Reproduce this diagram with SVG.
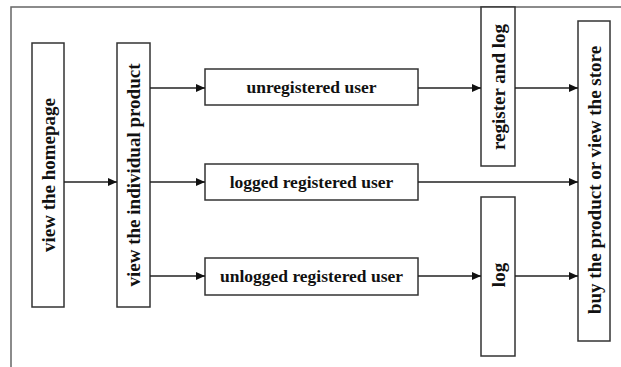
<svg xmlns="http://www.w3.org/2000/svg" width="621" height="367" viewBox="0 0 621 367">
<defs>
<marker id="ah" markerWidth="10" markerHeight="10" refX="9" refY="5" orient="auto" markerUnits="userSpaceOnUse">
<path d="M0,1 L9,5 L0,9 Z" fill="#111"/>
</marker>
<style>
.box{fill:#fff;stroke:#333;stroke-width:1.5}
.t{font-family:"Liberation Serif","Times New Roman",serif;font-weight:bold;fill:#111;text-anchor:middle}
.h{font-size:17.5px}
.v{font-size:19px}
.c{stroke:#222;stroke-width:1.4;fill:none;marker-end:url(#ah)}
.frame{stroke:#666;stroke-width:1.5;fill:none}
</style>
</defs>
<rect width="621" height="367" fill="#fff"/>
<path class="frame" d="M11,367 V7 H621"/>
<g id="homepage">
<rect class="box" x="32" y="43" width="32" height="264"/>
<text class="t v" transform="translate(48,175) rotate(-90)" y="6.5">view the homepage</text>
</g>
<g id="product">
<rect class="box" x="117" y="43" width="33" height="264"/>
<text class="t v" transform="translate(133.5,175) rotate(-90)" y="6.5">view the individual product</text>
</g>
<g id="unregistered">
<rect class="box" x="205" y="69" width="213" height="36"/>
<text class="t h" x="311.5" y="93">unregistered user</text>
</g>
<g id="logged">
<rect class="box" x="205" y="164" width="213" height="36"/>
<text class="t h" x="311.5" y="188">logged registered user</text>
</g>
<g id="unlogged">
<rect class="box" x="205" y="258" width="213" height="37"/>
<text class="t h" x="311.5" y="282">unlogged registered user</text>
</g>
<g id="register">
<rect class="box" x="481" y="7" width="34" height="159"/>
<text class="t v" transform="translate(498,87) rotate(-90)" y="6.5">register and log</text>
</g>
<g id="log">
<rect class="box" x="481" y="197" width="34" height="159"/>
<text class="t v" transform="translate(498,275) rotate(-90)" y="6.5">log</text>
</g>
<g id="buy">
<rect class="box" x="578" y="21" width="32" height="320"/>
<text class="t v" transform="translate(594,180) rotate(-90)" y="6.5">buy the product or view the store</text>
</g>
<g id="connectors">
<line class="c" x1="64" y1="182" x2="117" y2="182"/>
<line class="c" x1="150" y1="88" x2="205" y2="88"/>
<line class="c" x1="150" y1="182" x2="205" y2="182"/>
<line class="c" x1="150" y1="276" x2="205" y2="276"/>
<line class="c" x1="418" y1="88" x2="481" y2="88"/>
<line class="c" x1="515" y1="88" x2="578" y2="88"/>
<line class="c" x1="418" y1="182" x2="578" y2="182"/>
<line class="c" x1="418" y1="276" x2="481" y2="276"/>
<line class="c" x1="515" y1="276" x2="578" y2="276"/>
</g>
</svg>
